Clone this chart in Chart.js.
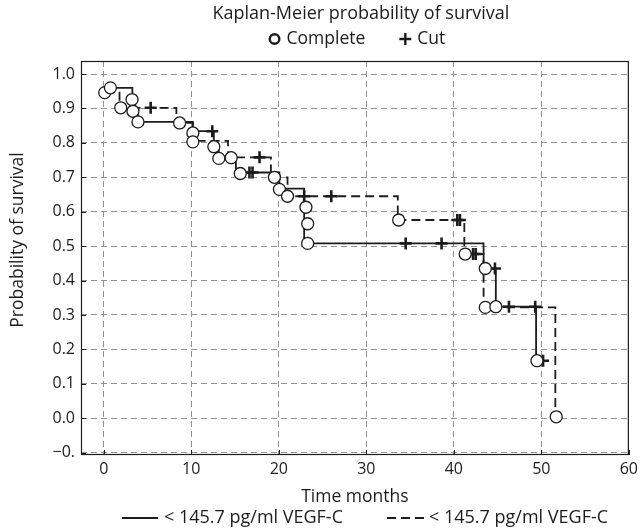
<!DOCTYPE html>
<html><head><meta charset="utf-8">
<script src="https://cdn.jsdelivr.net/npm/chart.js@4.4.1/dist/chart.umd.min.js"></script>
<style>html,body{margin:0;padding:0;background:#fff}#wrap{width:643px;height:531px}</style>
</head><body><div id="wrap"><canvas id="c" width="643" height="531"></canvas></div>
<script>
const chartTitle = 'Kaplan-Meier probability of survival';
const markerLabels = ['Complete', 'Cut'];
const seriesLabels = ['< 145.7 pg/ml VEGF-C', '< 145.7 pg/ml VEGF-C'];
const xAxisTitle = 'Time months';
const yAxisTitle = 'Probability of survival';
const xTicks = [0, 10, 20, 30, 40, 50, 60];
const yTicks = [-0.1, 0.0, 0.1, 0.2, 0.3, 0.4, 0.5, 0.6, 0.7, 0.8, 0.9, 1.0];
const yTickLabels = ['\u22120.', '0.0', '0.1', '0.2', '0.3', '0.4', '0.5', '0.6', '0.7', '0.8', '0.9', '1.0'];

// step curve of the solid group (time, survival after the step)
const solidTimes = [0.76, 3.27, 3.34, 3.9, 10.18, 12.58, 13.15, 15.1, 20.07, 22.9, 22.9, 22.9, 43.4, 44.8, 49.4, 50.2];
const solidSurv  = [0.960, 0.926, 0.892, 0.861, 0.834, 0.789, 0.755, 0.714, 0.667, 0.613, 0.565, 0.508, 0.435, 0.324, 0.167, 0.167];
// step curve of the dashed group
const dashedTimes = [0.11, 1.8, 8.3, 10.18, 14.2, 19.1, 21.0, 33.6, 41.2, 43.4, 51.6];
const dashedSurv  = [0.946, 0.902, 0.858, 0.806, 0.758, 0.700, 0.645, 0.576, 0.477, 0.322, 0.004];
// complete (event) markers
const completeTimes = [0.11, 0.76, 1.94, 3.23, 3.34, 3.91, 8.67, 10.18, 10.18, 12.58, 13.15, 14.56, 15.6, 19.5, 20.07, 21.0, 23.1, 23.3, 23.3, 33.7, 41.3, 43.6, 43.6, 44.8, 49.5, 51.7];
const completeSurv  = [0.946, 0.960, 0.902, 0.926, 0.892, 0.861, 0.858, 0.829, 0.803, 0.789, 0.755, 0.757, 0.711, 0.700, 0.665, 0.645, 0.613, 0.565, 0.508, 0.576, 0.477, 0.435, 0.322, 0.324, 0.167, 0.004];
// cut (censored) markers
const cutTimes = [5.36, 12.4, 16.65, 17.0, 17.8, 22.9, 26.0, 34.5, 38.6, 40.4, 40.7, 42.2, 42.5, 44.7, 46.3, 49.3, 50.2];
const cutSurv  = [0.902, 0.834, 0.714, 0.714, 0.758, 0.645, 0.645, 0.508, 0.508, 0.576, 0.576, 0.477, 0.477, 0.435, 0.324, 0.324, 0.167];

const FONT = '"Open Sans", Lato, sans-serif';
const INK = '#1c1c1c';
const pts = (xs, ys) => xs.map((x, i) => ({x: x, y: ys[i]}));

const decor = {
  id: 'decor',
  afterDraw(chart) {
    const ctx = chart.ctx, a = chart.chartArea;
    const xs = chart.scales.x, ys = chart.scales.y;
    ctx.save();
    // inner tick marks
    ctx.strokeStyle = INK; ctx.lineWidth = 1; ctx.setLineDash([]);
    ctx.beginPath();
    yTicks.forEach(v => { const p = Math.round(ys.getPixelForValue(v)) + 0.5; ctx.moveTo(a.left, p); ctx.lineTo(a.left + 5, p); });
    xTicks.forEach(v => { const p = Math.round(xs.getPixelForValue(v)) + 0.5; ctx.moveTo(p, a.bottom); ctx.lineTo(p, a.bottom - 5); });
    ctx.stroke();
    // frame
    ctx.lineWidth = 1.2;
    ctx.strokeRect(a.left + 0.5, a.top + 0.5, a.right - a.left - 1, a.bottom - a.top - 1);
    // title
    const cx = (a.left + a.right) / 2;
    ctx.fillStyle = INK; ctx.textBaseline = 'middle'; ctx.textAlign = 'center';
    ctx.font = '18px ' + FONT;
    ctx.fillText(chartTitle, cx + 6, 14);
    // y axis title
    ctx.save();
    ctx.translate(18, 240); ctx.rotate(-Math.PI / 2);
    ctx.font = '17.5px ' + FONT;
    ctx.fillText(yAxisTitle, 0, 0);
    ctx.restore();
    // top legend: markers
    ctx.textAlign = 'left';
    ctx.font = '17.5px ' + FONT;
    const w1 = ctx.measureText(markerLabels[0]).width, w2 = ctx.measureText(markerLabels[1]).width;
    const sym = 12, gap = 6, spacing = 34;
    const total = sym + gap + w1 + spacing + sym + gap + w2;
    let x0 = cx + 2 - total / 2; const ly = 39;
    ctx.lineWidth = 2.4;
    ctx.beginPath(); ctx.arc(x0 + sym / 2, ly, 4.8, 0, Math.PI * 2); ctx.stroke();
    ctx.fillText(markerLabels[0], x0 + sym + gap, ly);
    let x1 = x0 + sym + gap + w1 + spacing;
    ctx.beginPath(); ctx.moveTo(x1, ly); ctx.lineTo(x1 + sym, ly); ctx.moveTo(x1 + sym / 2, ly - 6); ctx.lineTo(x1 + sym / 2, ly + 6); ctx.stroke();
    ctx.fillText(markerLabels[1], x1 + sym + gap, ly);
    // bottom legend: series
    ctx.font = '18px ' + FONT;
    const by = 518;
    const s1 = ctx.measureText(seriesLabels[0]).width, s2 = ctx.measureText(seriesLabels[1]).width;
    const ln = 36, g2 = 6, sp2 = 44;
    const tot2 = ln + g2 + s1 + sp2 + ln + g2 + s2;
    let b0 = 365 - tot2 / 2;
    ctx.lineWidth = 1.8;
    ctx.beginPath(); ctx.moveTo(b0, by); ctx.lineTo(b0 + ln, by); ctx.stroke();
    ctx.fillText(seriesLabels[0], b0 + ln + g2, by);
    let b1 = b0 + ln + g2 + s1 + sp2;
    ctx.setLineDash([9, 5]);
    ctx.beginPath(); ctx.moveTo(b1, by); ctx.lineTo(b1 + ln + 4, by); ctx.stroke();
    ctx.setLineDash([]);
    ctx.fillText(seriesLabels[1], b1 + ln + g2, by);
    ctx.restore();
  }
};

new Chart(document.getElementById('c'), {
  type: 'scatter',
  data: {
    datasets: [
      { label: markerLabels[0], data: pts(completeTimes, completeSurv), pointStyle: 'circle', pointRadius: 6, pointHoverRadius: 6,
        pointBackgroundColor: '#ffffff', pointBorderColor: INK, pointBorderWidth: 1.3, showLine: false },
      { label: markerLabels[1], data: pts(cutTimes, cutSurv), pointStyle: 'cross', pointRadius: 6, pointHoverRadius: 6,
        pointBorderColor: INK, pointBorderWidth: 2.6, showLine: false },
      { label: seriesLabels[0], data: pts(solidTimes, solidSurv), showLine: true, stepped: 'before', pointRadius: 0,
        borderColor: INK, borderWidth: 1.8, fill: false },
      { label: seriesLabels[1], data: pts(dashedTimes, dashedSurv), showLine: true, stepped: 'before', pointRadius: 0,
        borderColor: INK, borderWidth: 1.8, borderDash: [9, 5], fill: false }
    ]
  },
  options: {
    responsive: false, animation: false, devicePixelRatio: 1,
    layout: { padding: { left: 0, right: 13, top: 61, bottom: 21 } },
    plugins: { legend: { display: false }, title: { display: false }, tooltip: { enabled: false } },
    scales: {
      x: {
        type: 'linear', min: -2.6, max: 60,
        afterFit: s => { s.height = 55; },
        afterBuildTicks: s => { s.ticks = xTicks.map(v => ({value: v})); },
        ticks: { color: INK, font: { family: FONT, size: 16 }, padding: 5, maxRotation: 0 },
        grid: { color: '#939393', lineWidth: 1, drawTicks: false },
        border: { display: false, dash: [6, 4] },
        title: { display: true, text: xAxisTitle, color: INK, font: { family: FONT, size: 17.5 }, padding: { top: 2, bottom: 2 } }
      },
      y: {
        type: 'linear', min: -0.107, max: 1.038,
        afterFit: s => { s.width = 81; },
        afterBuildTicks: s => { s.ticks = yTicks.map(v => ({value: v})); },
        ticks: { color: INK, font: { family: FONT, size: 16 }, padding: 6, callback: (v, i) => yTickLabels[i] },
        grid: { color: '#939393', lineWidth: 1, drawTicks: false },
        border: { display: false, dash: [6, 4] },
        title: { display: false }
      }
    }
  },
  plugins: [decor]
});
</script></body></html>
